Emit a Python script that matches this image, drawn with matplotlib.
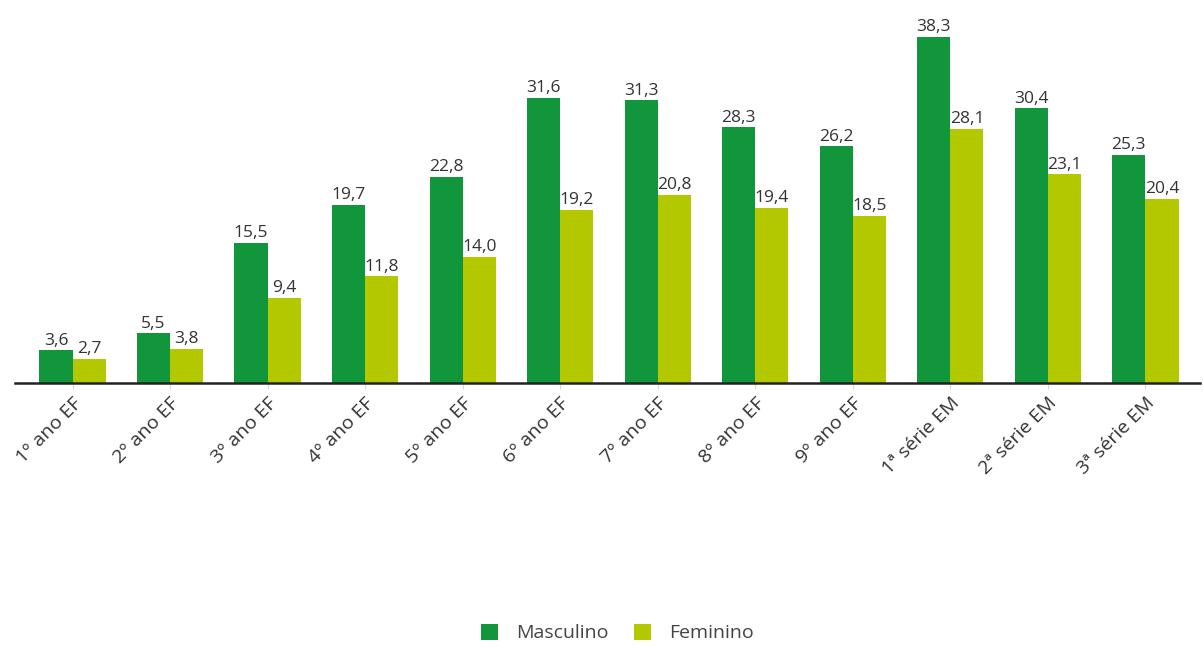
import numpy as np
import matplotlib.pyplot as plt

series = ["1º ano EF", "2º ano EF", "3º ano EF", "4º ano EF", "5º ano EF", "6º ano EF",
          "7º ano EF", "8º ano EF", "9º ano EF", "1ª série EM", "2ª série EM", "3ª série EM"]
masculino = [3.6, 5.5, 15.5, 19.7, 22.8, 31.6, 31.3, 28.3, 26.2, 38.3, 30.4, 25.3]
feminino = [2.7, 3.8, 9.4, 11.8, 14.0, 19.2, 20.8, 19.4, 18.5, 28.1, 23.1, 20.4]

GREEN = "#12963c"
LIME = "#b4c800"

plt.rcParams["font.family"] = ["Open Sans", "DejaVu Sans"]

fig = plt.figure(figsize=(12.03, 6.47), dpi=100)
ax = fig.add_axes([15 / 1203, 1 - 383 / 647, 1185 / 1203, 373 / 647])

x = np.arange(len(series))
w = 0.34
b1 = ax.bar(x - w / 2, masculino, w, color=GREEN, label="Masculino")
b2 = ax.bar(x + w / 2, feminino, w, color=LIME, label="Feminino")

def fmt(v):
    return f"{v:.1f}".replace(".", ",")

for bars, vals in ((b1, masculino), (b2, feminino)):
    for r, v in zip(bars, vals):
        ax.text(r.get_x() + r.get_width() / 2, v + 0.2, fmt(v), ha="center", va="bottom",
                fontsize=12.5, color="#333333")

ax.set_xlim(-0.59, 11.56)
ax.set_ylim(0, 41.3)
for s in ("top", "right", "left"):
    ax.spines[s].set_visible(False)
ax.spines["bottom"].set_color("#222222")
ax.spines["bottom"].set_linewidth(1.8)
ax.set_yticks([])
ax.set_xticks(x)
ax.set_xticklabels(series, rotation=45, ha="right", rotation_mode="anchor",
                   fontsize=14, color="#333333")
ax.tick_params(axis="x", length=4, color="#c8dce8", pad=4)

fig.legend(handles=[b1, b2], loc="center", bbox_to_anchor=(0.513, 1 - 633 / 647), ncol=2,
           frameon=False, fontsize=14, handlelength=0.9, handleheight=0.9,
           columnspacing=1.3, handletextpad=0.9, labelcolor="#444444")

fig.savefig("out.png", dpi=100)
